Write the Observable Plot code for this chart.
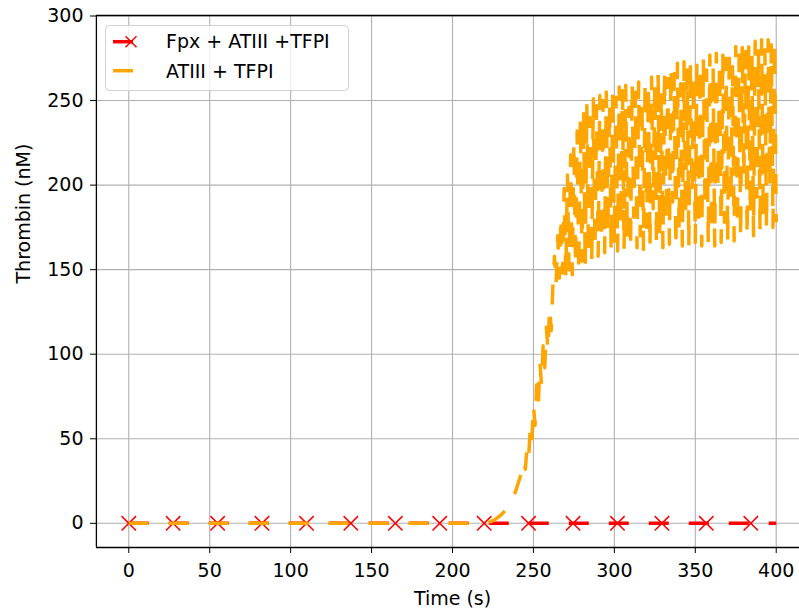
<!DOCTYPE html>
<html>
<head>
<meta charset="utf-8">
<script src="https://cdn.jsdelivr.net/npm/d3@7"></script>
<script src="https://cdn.jsdelivr.net/npm/@observablehq/plot@0.6"></script>
<style>
  html, body { margin: 0; padding: 0; background: #fff; }
  #wrap { position: relative; width: 799px; height: 609px; overflow: hidden; font-family: "DejaVu Sans", sans-serif; }
  #legend { position: absolute; left: 0; top: 0; pointer-events: none; }
</style>
</head>
<body>
<div id="wrap"></div>
<script>
// ---- data ----
const seriesNames = ["Fpx + ATIII +TFPI", "ATIII + TFPI"];
const xTicks = [0, 50, 100, 150, 200, 250, 300, 350, 400];
const yTicks = [0, 50, 100, 150, 200, 250, 300];

// Fpx + ATIII +TFPI (stays at zero)
const redTime = [0, 400];
const redThrombin = [0, 0];
const markerTime = [0, 27.4, 54.9, 82.3, 109.8, 137.2, 164.7, 192.1, 219.6, 247.0, 274.5, 301.9, 329.4, 356.8, 384.3];
const markerThrombin = [0, 0, 0, 0, 0, 0, 0, 0, 0, 0, 0, 0, 0, 0, 0];

// ATIII + TFPI
const orangeTime = [0, 220, 222, 226, 230, 233, 236, 239, 241, 243,
  244, 245, 246, 247, 248, 249, 250, 251, 252, 253, 254, 255, 256, 257, 258, 259, 260, 261, 262,
  263, 264, 265, 266, 267, 268, 269, 270, 271, 272, 273, 274, 275, 276, 277, 278, 279, 280,
  281, 282, 283, 284, 285, 286, 287, 288, 289, 290, 291, 292, 293, 294, 295, 296, 297, 298, 299, 300,
  301, 302, 303, 304, 305, 306, 307, 308, 309, 310, 311, 312, 313, 314, 315, 316, 317, 318, 319, 320,
  321, 322, 323, 324, 325, 326, 327, 328, 329, 330, 331, 332, 333, 334, 335, 336, 337, 338,
  339, 340, 341, 342, 343, 344, 345, 346, 347, 348, 349, 350, 351, 352, 353, 354,
  355, 356, 357, 358, 359, 360, 361, 362, 363, 364, 365, 366,
  367, 368, 369, 370, 371, 372, 373, 374, 375, 376, 377, 378,
  379, 380, 381, 382, 383, 384, 385, 386,
  387, 388, 389, 390, 391, 392, 393, 394, 395, 396, 397, 398, 399, 400];
const orangeThrombin = [0, 0, 0.5, 2, 5, 8, 11, 19, 25, 31,
  37, 32, 44, 38, 55, 47, 70, 58, 82, 70, 95, 82, 105, 92, 116, 102, 128, 114, 140,
  158, 141, 170, 145, 182, 148, 198, 146, 206, 150, 218, 147, 226, 152, 232, 148, 240, 155,
  244, 151, 248, 158, 240, 154, 251, 162, 247, 158, 253, 167, 250, 160, 255, 172, 249, 161, 257, 165,
  252, 161, 258, 176, 256, 162, 259, 168, 246, 162, 260, 181, 255, 163, 261, 170, 251, 162, 262, 175,
  258, 163, 264, 186, 260, 164, 266, 171, 255, 163, 268, 178, 263, 165, 270, 190, 266, 163,
  272, 172, 260, 164, 273, 182, 268, 163, 273, 195, 265, 166, 274, 175, 270, 164,
  275, 186, 268, 165, 277, 172, 271, 164, 278, 199, 272, 166,
  279, 178, 275, 166, 281, 190, 270, 167, 282, 175, 277, 168,
  283, 204, 279, 169, 284, 182, 278, 170,
  285, 193, 281, 172, 286, 180, 280, 174, 286, 200, 283, 175, 285, 178];

const red = redTime.map((t, i) => ({t, v: redThrombin[i]}));
const marks = markerTime.map((t, i) => ({t, v: markerThrombin[i]}));
const orange = orangeTime.map((t, i) => ({t, v: orangeThrombin[i]}));

const FS = 19;
const chart = Plot.plot({
  width: 799,
  height: 609,
  marginLeft: 96,
  marginRight: 0,
  marginTop: 15,
  marginBottom: 62,
  style: {fontFamily: "DejaVu Sans", fontSize: FS + "px", color: "#000", background: "#fff"},
  x: {domain: [-20, 420], range: [95.9, 808.1]},
  y: {domain: [-14.3, 300.3], range: [547, 15]},
  marks: [
    Plot.gridX(xTicks, {stroke: "#b0b0b0", strokeOpacity: 1, strokeWidth: 1.1}),
    Plot.gridY(yTicks, {stroke: "#b0b0b0", strokeOpacity: 1, strokeWidth: 1.1}),
    Plot.line(red, {x: "t", y: "v", stroke: "#ff0000", strokeWidth: 3.5, strokeDasharray: "20,20", strokeLinecap: "butt", strokeLinejoin: "round"}),
    Plot.dot(marks, {x: "t", y: "v", symbol: "times", r: 6.6, stroke: "#ff0000", strokeWidth: 1.5}),
    Plot.line(orange, {x: "t", y: "v", stroke: "#ffa500", strokeWidth: 3.5, strokeDasharray: "20,20", strokeLinecap: "butt", strokeLinejoin: "round"}),
    Plot.ruleX([-20], {stroke: "#000", strokeWidth: 1.3}),
    Plot.ruleY([-14.3], {stroke: "#000", strokeWidth: 1.3}),
    Plot.ruleY([300.3], {stroke: "#000", strokeWidth: 1.3}),
    Plot.axisX(xTicks, {tickSize: 6, tickPadding: 9.5, fontSize: FS, label: null, stroke: "#000"}),
    Plot.axisY(yTicks, {tickSize: 6, tickPadding: 7, fontSize: FS, label: null, stroke: "#000"}),
    Plot.text(["Time (s)"], {text: d => d, frameAnchor: "bottom", dx: 4.5, dy: 57, fontSize: FS, fill: "#000"}),
    Plot.text(["Thrombin (nM)"], {text: d => d, frameAnchor: "left", rotate: -90, dx: -73, dy: 2, fontSize: FS, fill: "#000"})
  ]
});
const wrap = document.getElementById("wrap");
wrap.appendChild(chart);

// legend overlay
const ns = "http://www.w3.org/2000/svg";
const lg = document.createElementNS(ns, "svg");
lg.setAttribute("id", "legend");
lg.setAttribute("width", 799);
lg.setAttribute("height", 609);
lg.innerHTML = `
  <rect x="105.5" y="25.5" width="243" height="65" rx="4" ry="4" fill="rgba(255,255,255,0.8)" stroke="#d0d0d0" stroke-width="1"/>
  <line x1="113" y1="41.7" x2="133" y2="41.7" stroke="#ff0000" stroke-width="3.5"/>
  <path d="M125.5,36.2L136.5,47.2M125.5,47.2L136.5,36.2" stroke="#ff0000" stroke-width="1.5" fill="none"/>
  <line x1="113" y1="70.7" x2="133" y2="70.7" stroke="#ffa500" stroke-width="3.5"/>
  <text x="166" y="48.3" font-family="DejaVu Sans" font-size="${FS}" fill="#000">${seriesNames[0]}</text>
  <text x="166" y="78.3" font-family="DejaVu Sans" font-size="${FS}" fill="#000">${seriesNames[1]}</text>
`;
wrap.appendChild(lg);
</script>
</body>
</html>
